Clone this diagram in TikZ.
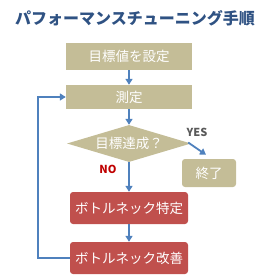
\documentclass[tikz,border=0pt]{standalone}
\usepackage{fontspec}
\setmainfont{Noto Sans CJK JP}
\usetikzlibrary{shapes.geometric,arrows.meta}
\definecolor{tan}{HTML}{C4BD97}
\definecolor{brick}{HTML}{C0504D}
\definecolor{linkblue}{HTML}{4F81BD}
\definecolor{titleblue}{HTML}{2F5283}
\begin{document}
\begin{tikzpicture}[x=1pt,y=-1pt,
  tanbox/.style={fill=tan,text=white,inner sep=0pt,font=\fontsize{13.5}{13.5}\selectfont},
  redbox/.style={fill=brick,text=white,inner sep=0pt,rounded corners=3pt,font=\fontsize{13.5}{13.5}\selectfont},
  conn/.style={draw=linkblue,line width=1.8pt,-{Triangle[length=6pt,width=7pt]}}]
\useasboundingbox (0,0) rectangle (275,280);
\node[font=\bfseries\fontsize{16}{16}\selectfont,text=titleblue] (title) at (135,18) {パフォーマンスチューニング手順};
\node[tanbox,minimum width=126pt,minimum height=27pt] (goal) at (129,56.5) {目標値を設定};
\node[tanbox,minimum width=126pt,minimum height=24pt] (meas) at (129,97) {測定};
\node[tanbox,diamond,aspect=3.3,minimum width=124pt,minimum height=37pt] (dec) at (129,143.5) {目標達成？};
\node[tanbox,rounded corners=3pt,minimum width=54pt,minimum height=28pt] (end) at (209,173) {終了};
\node[redbox,minimum width=118pt,minimum height=32pt] (find) at (129,208) {ボトルネック特定};
\node[redbox,minimum width=118pt,minimum height=32pt] (fix) at (129,258) {ボトルネック改善};
\node[font=\bfseries\fontsize{11}{11}\selectfont,text=black!65] (yes) at (197,132) {YES};
\node[font=\bfseries\fontsize{11}{11}\selectfont,text=red!75!black] (no) at (108,169) {NO};
\coordinate (ys) at ([xshift=-3pt,yshift=1pt]dec.east);
\coordinate (ye) at ([xshift=-3pt,yshift=4pt]end.north);
\coordinate (c1) at (38,258);
\coordinate (c2) at (38,97);
\draw[conn] (goal) -- (meas);
\draw[conn] (meas) -- (dec);
\draw[conn] (dec) -- (find);
\draw[conn] (find) -- (fix);
\draw[conn] (ys) -- (ye);
\draw[conn] (fix.west) -- (c1) -- (c2) -- (meas.west);
\end{tikzpicture}
\end{document}
